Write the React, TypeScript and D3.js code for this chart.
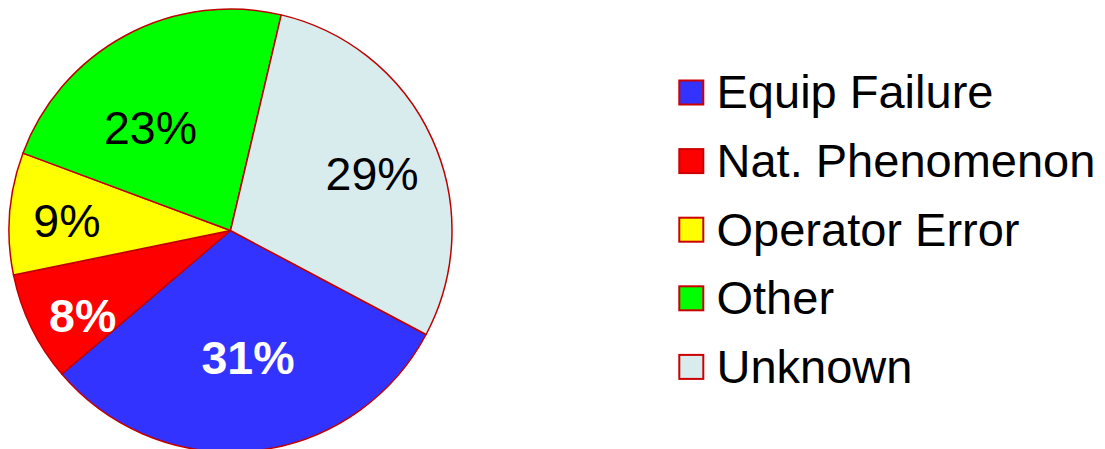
import React from "react";
import * as d3 from "d3";

const categories = ["Equip Failure", "Nat. Phenomenon", "Operator Error", "Other", "Unknown"];
const values = [31.0, 8.0, 8.9, 23.0, 29.1];
const labels = ["31%", "8%", "9%", "23%", "29%"];

const colors = ["#3333FF", "#FF0000", "#FFFF00", "#00FF00", "#D9ECED"];
const labelColors = ["#FFFFFF", "#FFFFFF", "#000000", "#000000", "#000000"];
const labelWeights = ["bold", "bold", "normal", "normal", "normal"];
// label placement: fraction of radius and angular nudge (degrees)
const labelRadiusFrac = [0.58, 0.77, 0.74, 0.59, 0.69];
const labelAngleNudge = [-1.6, -3.9, -0.9, -9.6, 2.3];

const W = 1105;
const H = 449;
const cx = 230.5;
const cy = 230.5;
const R = 221.5;
const startDeg = 118;

export default function App() {
  const pie = d3
    .pie<number>()
    .sort(null)
    .startAngle((startDeg * Math.PI) / 180)
    .endAngle(((startDeg + 360) * Math.PI) / 180);
  const arcs = pie(values);
  const arcGen = d3.arc<d3.PieArcDatum<number>>().innerRadius(0).outerRadius(R);

  const legendY = d3
    .scalePoint<string>()
    .domain(categories)
    .range([108.3, 382.7]);

  const font = "'Liberation Sans', Arial, sans-serif";

  return (
    <svg
      width={W}
      height={H}
      style={{ position: "absolute", left: 0, top: 0, background: "#fff" }}
    >
      <g transform={`translate(${cx},${cy})`}>
        {arcs.map((a, i) => (
          <path
            key={i}
            d={arcGen(a) || ""}
            fill={colors[i]}
            stroke="#C00000"
            strokeWidth={1.5}
            strokeLinejoin="round"
          />
        ))}
        {arcs.map((a, i) => {
          const mid = (a.startAngle + a.endAngle) / 2 + (labelAngleNudge[i] * Math.PI) / 180;
          const r = labelRadiusFrac[i] * R;
          const x = r * Math.sin(mid);
          const y = -r * Math.cos(mid);
          return (
            <text
              key={i}
              x={x}
              y={y + 16.6}
              textAnchor="middle"
              fontFamily={font}
              fontSize={46.5}
              fontWeight={labelWeights[i]}
              fill={labelColors[i]}
            >
              {labels[i]}
            </text>
          );
        })}
      </g>
      <g>
        {categories.map((c, i) => {
          const by = legendY(c) as number;
          return (
            <g key={c}>
              <rect
                x={679.3}
                y={by - 15.8 - 12}
                width={24}
                height={24}
                fill={colors[i]}
                stroke="#CC0000"
                strokeWidth={2}
              />
              <text x={716.5} y={by} fontFamily={font} fontSize={47} fill="#000">
                {c}
              </text>
            </g>
          );
        })}
      </g>
    </svg>
  );
}
